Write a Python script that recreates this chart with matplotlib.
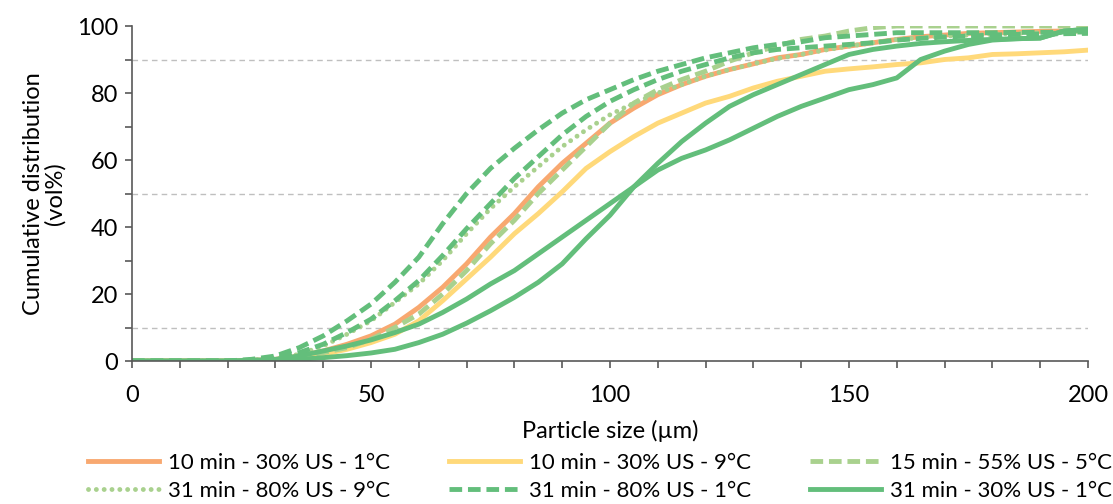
import matplotlib.pyplot as plt

plt.rcParams['font.family'] = ['Lato', 'DejaVu Sans']

# particle size grid (µm)
size = [0, 10, 20, 25, 30, 35, 40, 45, 50, 55, 60, 65, 70, 75, 80, 85, 90, 95, 100,
        105, 110, 115, 120, 125, 130, 135, 140, 145, 150, 155, 160, 165, 170, 175,
        180, 185, 190, 195, 200]

# cumulative distribution (vol%)
s10_30_1 = [0, 0, 0, 0.2, 0.5, 1.5, 3, 5, 7.5, 11, 16, 22, 29, 37, 44, 52, 59, 65, 71,
            75.5, 79.5, 82.5, 85, 87, 88.7, 90.5, 91.5, 93, 94, 95, 96, 96.8, 97.3, 97.8,
            98, 98.2, 98.4, 98.5, 98.6]
s10_30_9 = [0, 0, 0, 0.1, 0.3, 1, 2, 3.5, 5.5, 8, 12, 18, 24.5, 31, 38, 44, 50.5, 57.5, 62.5,
            67, 71, 74, 77, 79, 81.5, 83.5, 85, 86.5, 87.2, 87.8, 88.5, 89, 90, 90.5,
            91.5, 91.7, 92, 92.3, 92.8]
s15_55_5 = [0, 0, 0, 0.1, 0.3, 1, 2.5, 4, 6.5, 10, 14, 20, 27, 35, 42, 50, 57, 64, 71,
            77, 81, 84, 86.5, 89.5, 92, 94, 96, 97, 98.5, 99.5, 100, 100, 100, 100,
            100, 100, 100, 100, 100]
s31_80_9 = [0, 0, 0, 0.3, 0.8, 2, 4.5, 8, 12, 17.5, 23, 30, 38, 45.5, 52, 58, 64, 69, 73.5,
            77, 80, 82.5, 85, 87, 88.7, 90.3, 91.5, 92.8, 94, 95, 96, 96.5, 97, 97.3,
            97.5, 97.8, 98, 98.2, 98.5]
s31_80_1a = [0, 0, 0, 0.5, 1.5, 4, 7.5, 12, 17, 23.5, 31, 41, 50, 57.5, 63.5, 69, 74, 78, 81,
             84, 86.5, 88.5, 90.5, 92, 93.5, 94.5, 95.3, 96.5, 97, 97.5, 98, 98, 98, 98,
             98, 98.1, 98.1, 98.2, 98.2]
s31_80_1b = [0, 0, 0, 0.3, 1, 2.5, 5, 8.5, 12.5, 18, 24, 31.5, 39.5, 47, 54.5, 61, 67.5, 73, 77.5,
             81, 84, 86.5, 88.5, 90.5, 92, 93, 93.5, 94, 94.5, 95, 95.8, 96.3, 96.7, 97,
             97.3, 97.5, 97.6, 97.7, 97.8]
s31_30_1a = [0, 0, 0, 0.2, 0.5, 1.5, 3, 4.5, 6.3, 8.5, 11, 14.5, 18.5, 23, 27, 32, 37, 42, 47,
             52, 57, 60.5, 63, 66, 69.5, 73, 76, 78.5, 81, 82.5, 84.5, 90, 92.5, 94.5,
             95.8, 96.2, 96.4, 98.5, 99]
s31_30_1b = [0, 0, 0, 0.1, 0.2, 0.5, 1, 1.6, 2.4, 3.5, 5.5, 8, 11.3, 15, 19, 23.5, 29, 36.5, 43.5,
             52, 59, 65.5, 71, 76, 79.5, 82.5, 85.5, 88.5, 91.5, 93, 94, 94.8, 95.3, 95.7,
             96, 96.2, 96.4, 98.5, 99]

ref_levels = [10, 50, 90]

orange = '#F8A870'
yellow = '#FFD97A'
lgreen = '#A9D18E'
dgreen = '#63BE7B'
lw = 3.5
dash = (0, (2.6, 1.2))
fs = 17

fig = plt.figure(figsize=(11.13, 5.04), dpi=100)
ax = fig.add_axes([0.1186, 0.2837, 0.8589, 0.6647])

for lev in ref_levels:
    ax.axhline(lev, color='#BFBFBF', lw=1, ls=(0, (4, 3)), zorder=0)

p1, = ax.plot(size, s10_30_1, color=orange, lw=lw, label='10 min - 30% US - 1°C')
p2, = ax.plot(size, s10_30_9, color=yellow, lw=lw, label='10 min - 30% US - 9°C')
p3, = ax.plot(size, s15_55_5, color=lgreen, lw=lw, ls=dash, label='15 min - 55% US - 5°C')
p4, = ax.plot(size, s31_80_9, color=lgreen, lw=lw, ls=(0, (0.01, 1.6)),
              dash_capstyle='round', label='31 min - 80% US - 9°C')
ax.plot(size, s31_80_1a, color=dgreen, lw=lw, ls=dash)
p5, = ax.plot(size, s31_80_1b, color=dgreen, lw=lw, ls=dash, label='31 min - 80% US - 1°C')
ax.plot(size, s31_30_1a, color=dgreen, lw=lw)
p6, = ax.plot(size, s31_30_1b, color=dgreen, lw=lw, label='31 min - 30% US - 1°C')

ax.set_xlim(0, 200)
ax.set_ylim(0, 100)
ax.set_xticks(range(0, 201, 50))
ax.set_xticks(range(0, 201, 10), minor=True)
ax.set_yticks(range(0, 101, 20))
ax.set_yticks(range(10, 100, 20), minor=True)
for s in ['top', 'right']:
    ax.spines[s].set_visible(False)
for s in ['left', 'bottom']:
    ax.spines[s].set_color('#595959')
    ax.spines[s].set_linewidth(1.2)
ax.tick_params(which='both', direction='out', length=5, width=1.2, color='#595959',
               labelsize=fs, labelcolor='#000000')
ax.tick_params(axis='y', which='both', pad=5)
ax.tick_params(axis='x', which='both', pad=12)

ax.set_xlabel('Particle size (µm)', fontsize=fs, labelpad=10)
ax.set_ylabel('Cumulative distribution\n(vol%)', fontsize=fs, labelpad=8, linespacing=1.0)

handles = [p1, p4, p2, p5, p3, p6]
fig.legend(handles=handles, labels=[h.get_label() for h in handles], ncol=3,
           loc='upper center', bbox_to_anchor=(0.539, 0.141), frameon=False,
           fontsize=16, handlelength=3.2, columnspacing=2.65, handletextpad=0.4,
           labelspacing=0.36)

fig.savefig('out.png', dpi=100)
